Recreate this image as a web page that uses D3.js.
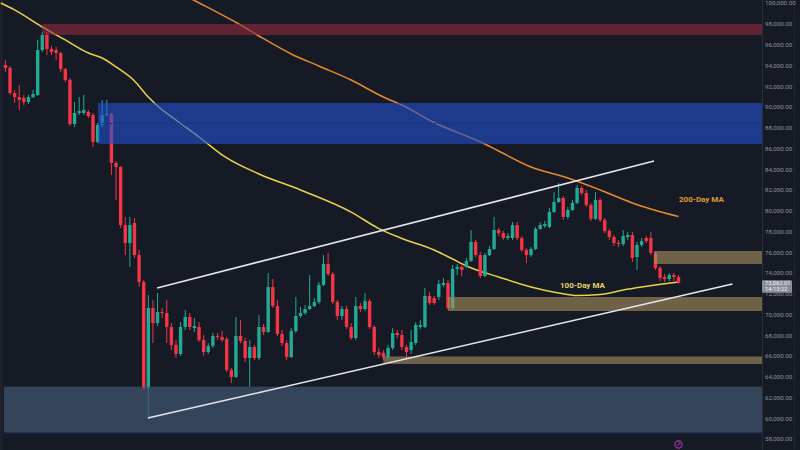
<!DOCTYPE html>
<html>
<head>
<meta charset="utf-8">
<script src="https://cdn.jsdelivr.net/npm/d3@7/dist/d3.min.js"></script>
<style>
  html, body { margin: 0; padding: 0; background: #161a25; }
  svg { display: block; }
</style>
</head>
<body>
<div id="wrapper"></div>
<script>
// daily candles, prices in thousands of USD, oldest first
const openK = [94.03,93.74,91.33,90.94,90.85,90.46,90.94,91.14,95.47,96.92,95.57,95.47,95.18,93.64,92.58,88.34,89.40,89.40,89.50,89.21,
  86.61,88.25,89.21,89.31,84.59,84.20,78.61,76.88,78.81,75.72,73.12,62.91,70.62,69.17,70.23,70.14,68.79,67.05,66.19,68.79,
  69.75,68.69,68.79,67.54,66.38,66.96,67.92,67.83,67.63,64.65,63.97,67.92,67.44,65.80,66.86,65.80,68.79,68.31,72.64,70.81,
  68.12,67.25,65.90,68.40,69.85,70.14,70.52,70.81,71.20,72.84,74.86,73.90,71.20,69.85,70.52,68.79,67.73,70.81,70.52,71.29,
  68.79,66.38,66.29,65.90,66.77,68.21,68.02,66.86,66.57,67.25,68.79,68.79,71.78,71.58,71.68,72.84,73.03,70.62,74.38,74.57,
  74.57,75.15,76.98,75.72,73.70,75.72,76.30,78.13,77.84,77.36,77.36,78.61,77.36,76.21,75.72,76.30,78.23,78.52,78.42,79.87,
  80.83,81.22,79.39,80.06,80.74,82.18,81.70,80.54,79.20,81.02,79.10,78.04,77.46,76.88,76.78,77.46,77.65,75.53,76.69,77.36,
  77.36,75.92,74.47,73.61,73.41,73.80,73.61];
const highK = [94.51,93.93,91.62,92.10,91.14,91.14,91.62,96.44,97.21,97.21,95.86,95.76,95.28,93.74,92.78,90.46,90.94,91.14,89.69,89.40,
  88.44,90.66,90.66,89.40,84.78,84.30,79.39,79.39,79.29,76.21,73.32,71.87,71.39,72.06,70.62,71.39,69.17,67.54,69.27,70.43,
  70.14,69.66,69.27,68.02,67.25,68.21,68.21,68.40,67.83,64.84,69.75,69.46,67.73,67.54,67.05,69.95,69.08,73.99,73.41,71.39,
  68.50,67.54,68.69,71.68,70.72,70.91,73.80,71.58,73.12,75.72,75.92,74.09,71.39,70.81,70.81,69.17,71.68,71.10,72.06,71.49,
  68.98,66.77,66.57,67.05,68.69,68.50,68.50,67.05,68.50,69.27,69.46,72.55,72.16,71.78,73.32,73.51,73.32,74.76,74.86,74.76,
  75.44,78.13,77.17,76.01,75.92,76.59,79.39,78.33,78.04,77.84,78.90,78.90,77.55,76.40,76.50,78.42,78.90,79.00,80.26,81.79,
  82.66,81.41,80.35,81.02,82.47,82.37,81.99,80.74,81.79,81.22,79.29,78.23,77.65,77.17,78.13,77.94,77.94,76.98,77.36,77.55,
  77.94,76.11,74.67,73.90,73.99,73.99,73.80];
const lowK = [93.35,91.14,90.37,89.69,90.17,90.27,90.85,91.04,95.28,94.99,94.99,94.51,93.35,92.39,88.15,88.05,89.21,89.21,88.92,86.13,
  86.51,88.05,89.11,83.43,81.02,78.33,75.72,74.57,75.44,72.64,62.72,60.02,67.25,68.88,69.66,67.25,66.57,65.80,66.00,68.50,
  68.50,68.31,67.34,66.00,66.19,66.77,67.54,67.34,64.45,63.40,63.88,67.25,65.42,63.01,65.61,65.61,68.02,68.21,70.62,67.92,
  66.96,65.61,65.80,68.21,69.66,69.95,70.43,70.72,71.00,72.74,73.70,71.00,69.46,69.46,68.60,67.54,67.54,70.23,70.33,68.60,
  66.09,65.80,65.61,65.71,66.57,67.73,66.57,65.80,66.19,67.05,68.60,68.69,70.91,70.91,71.39,72.64,70.43,70.43,73.80,73.70,
  74.47,75.05,75.53,73.51,73.61,75.63,76.21,77.55,77.17,77.17,77.17,77.17,76.01,74.95,75.53,76.21,78.13,78.33,78.33,79.77,
  80.74,79.10,79.20,79.97,80.64,81.51,80.35,79.00,79.10,78.90,77.84,77.17,76.59,76.50,76.59,77.17,75.05,74.28,76.50,76.88,
  75.72,74.28,73.22,73.12,73.22,73.22,72.93];
const closeK = [93.74,91.33,90.94,90.66,90.46,90.94,91.23,95.47,96.92,95.57,95.28,95.18,93.64,92.58,88.34,89.40,89.60,89.69,89.11,86.61,
  88.25,89.21,89.31,84.59,84.20,78.61,76.88,78.61,75.72,73.12,62.91,70.62,69.17,70.23,70.14,68.79,67.05,66.19,68.79,69.75,
  68.79,68.88,67.54,66.38,66.96,67.92,67.83,67.54,64.65,63.97,67.92,67.44,65.80,66.86,65.80,68.79,68.31,72.64,70.81,68.12,
  67.25,65.90,68.40,69.85,70.14,70.52,70.81,71.20,72.84,74.86,73.90,71.20,69.85,70.52,68.79,67.73,70.81,70.52,71.29,68.79,
  66.38,66.09,65.90,66.77,68.21,68.02,66.86,66.38,67.34,68.98,68.98,71.78,71.10,71.10,72.93,73.03,70.62,74.38,74.57,74.28,
  75.15,76.98,75.72,73.70,75.72,76.30,78.13,77.84,77.36,77.55,78.61,77.36,76.21,75.72,76.30,78.23,78.61,78.71,79.87,80.83,
  81.22,79.39,80.06,80.74,82.18,81.70,80.54,79.20,81.02,79.10,78.04,77.46,76.88,76.78,77.55,77.65,75.44,76.69,77.07,77.07,
  75.92,74.47,73.51,73.41,73.80,73.61,73.06];

// moving averages: [candle index, price K]
const ma100 = [[-1,100.0],[2,99.33],[8,97.69],[13,96.44],[18,95.18],[21,94.70],[24,93.84],[28,92.49],[31,90.94],[33,90.08],
  [37,88.73],[42,87.09],[48,85.07],[55,83.53],[64,81.99],[75,79.86],[81,78.27],[86,77.32],[93,76.21],[97,75.34],[100,74.67],
  [107,73.61],[114,72.64],[120,72.06],[124,71.82],[129,71.91],[134,72.35],[138,72.64],[146,73.12]];
const ma200 = [[38,100.93],[41,100.24],[51,97.88],[55,96.82],[62,95.09],[68,93.93],[75,92.58],[82,90.94],[86,90.17],[93,88.49],
  [104,86.42],[107,85.74],[114,84.20],[122,83.14],[129,81.99],[136,80.74],[146,79.43]];

// trend channel, each line [[index, price K], [index, price K]]
const upperChannel = [[32.9, 72.55], [140.7, 84.78]];
const lowerChannel = [[30.9, 60.02], [157.7, 72.93]];

// horizontal zones, they run to the right edge
const zoneKind = ["red", "blue", "slate", "tan", "tan", "tan"];
const zoneStart = [8, 20.1, -0.3, 140.7, 96, 82];
const zoneLowK = [96.92, 86.42, 58.58, 74.86, 70.33, 65.23];
const zoneHighK = [97.98, 90.37, 63.04, 76.11, 71.68, 65.95];

const tickValuesK = [58,60,62,64,66,68,70,72,74,76,78,80,82,84,86,88,90,92,94,96,98,100];
const lastPrice = "73,062.01";
const countdown = "14:13:22";

function drawChart() {
  const dimensions = { width: 800, height: 450, plotRight: 762 };
  const colors = {
    bg: "#161a25", up: "#22ab94", down: "#f23645",
    red: "#8d2a3d", blue: "#2450d3", slate: "#405470", tan: "#a88e5f",
    ma100: "#e6d34c", ma200: "#e8892c", axisText: "#8e929c"
  };
  const zoneOpacity = { red: 0.62, blue: 0.6, slate: 0.72, tan: 0.62 };

  const svg = d3.select("#wrapper").append("svg")
    .attr("width", dimensions.width)
    .attr("height", dimensions.height)
    .style("background", colors.bg);

  svg.append("defs").append("clipPath").attr("id", "plot")
    .append("rect").attr("x", 0).attr("y", 0)
    .attr("width", dimensions.plotRight).attr("height", dimensions.height);

  const candles = d3.range(openK.length).map(i => ({
    i, o: openK[i], h: highK[i], l: lowK[i], c: closeK[i]
  }));

  const xScale = d3.scaleLinear().domain([0, 146]).range([5.4, 678.5]);
  const yScale = d3.scaleLinear().domain([58, 100]).range([439, 3]);

  const bounds = svg.append("g").attr("clip-path", "url(#plot)");

  // left edge strip
  bounds.append("rect").attr("x", 0).attr("y", 0).attr("width", 3)
    .attr("height", dimensions.height).attr("fill", "#1d212b");

  // moving averages
  const maLine = d3.line()
    .x(d => xScale(d[0]))
    .y(d => yScale(d[1]))
    .curve(d3.curveMonotoneX);
  bounds.append("path").attr("d", maLine(ma200))
    .attr("fill", "none").attr("stroke", colors.ma200).attr("stroke-width", 1.5);
  bounds.append("path").attr("d", maLine(ma100))
    .attr("fill", "none").attr("stroke", colors.ma100).attr("stroke-width", 1.5);

  // candles
  const bodyW = 3.4;
  const candleG = bounds.append("g");
  candleG.selectAll("line").data(candles).join("line")
    .attr("x1", d => xScale(d.i)).attr("x2", d => xScale(d.i))
    .attr("y1", d => yScale(d.h)).attr("y2", d => yScale(d.l))
    .attr("stroke", d => d.c >= d.o ? colors.up : colors.down)
    .attr("stroke-width", 1);
  candleG.selectAll("rect").data(candles).join("rect")
    .attr("x", d => xScale(d.i) - bodyW / 2)
    .attr("width", bodyW)
    .attr("y", d => yScale(Math.max(d.o, d.c)))
    .attr("height", d => Math.max(1, Math.abs(yScale(d.o) - yScale(d.c))))
    .attr("fill", d => d.c >= d.o ? colors.up : colors.down);

  // zones drawn over candles, semi transparent
  const zones = zoneKind.map((k, j) => ({ k, s: zoneStart[j], lo: zoneLowK[j], hi: zoneHighK[j] }));
  bounds.append("g").selectAll("rect").data(zones).join("rect")
    .attr("x", d => xScale(d.s))
    .attr("width", d => dimensions.plotRight - xScale(d.s))
    .attr("y", d => yScale(d.hi))
    .attr("height", d => yScale(d.lo) - yScale(d.hi))
    .attr("fill", d => colors[d.k])
    .attr("fill-opacity", d => zoneOpacity[d.k]);

  // mid line of the blue zone
  const blue = zones[1];
  const mid = (blue.lo + blue.hi) / 2;
  bounds.append("line")
    .attr("x1", xScale(blue.s)).attr("x2", dimensions.plotRight)
    .attr("y1", yScale(mid)).attr("y2", yScale(mid))
    .attr("stroke", "#1a2c70").attr("stroke-width", 1)
    .attr("stroke-dasharray", "2,2");

  // bottom edge of the slate zone
  const slate = zones[2];
  bounds.append("line")
    .attr("x1", xScale(slate.s)).attr("x2", dimensions.plotRight)
    .attr("y1", yScale(slate.lo)).attr("y2", yScale(slate.lo))
    .attr("stroke", "#1c2a4a").attr("stroke-width", 1.5);

  // channel
  const straight = d3.line().x(d => xScale(d[0])).y(d => yScale(d[1]));
  [upperChannel, lowerChannel].forEach(pts => {
    bounds.append("path").attr("d", straight(pts))
      .attr("fill", "none").attr("stroke", "#e6e7ec").attr("stroke-width", 1.6);
  });

  // MA labels
  bounds.append("text")
    .attr("x", xScale(120.3)).attr("y", yScale(72.55))
    .attr("fill", "#e8d46a").attr("font-family", "Roboto, sans-serif")
    .attr("font-size", 8).attr("font-weight", "bold")
    .text("100-Day MA");
  bounds.append("text")
    .attr("x", xScale(146.1)).attr("y", yScale(80.83))
    .attr("fill", "#e59a33").attr("font-family", "Roboto, sans-serif")
    .attr("font-size", 8).attr("font-weight", "bold")
    .text("200-Day MA");

  // event icon below last candle
  const icon = svg.append("g")
    .attr("transform", `translate(${xScale(146)}, 444.5)`);
  icon.append("circle").attr("r", 3.6)
    .attr("fill", "none").attr("stroke", "#a8359f").attr("stroke-width", 1.2);
  icon.append("path").attr("d", "M-1.5,1.5 L1.5,-1.5 M0,-1.5 L1.5,-1.5 L1.5,0")
    .attr("fill", "none").attr("stroke", "#a8359f").attr("stroke-width", 0.9);

  // right price axis
  svg.append("line")
    .attr("x1", dimensions.plotRight + 0.5).attr("x2", dimensions.plotRight + 0.5)
    .attr("y1", 0).attr("y2", dimensions.height)
    .attr("stroke", "#2a2e39");
  svg.append("line")
    .attr("x1", 794.5).attr("x2", 794.5).attr("y1", 0).attr("y2", dimensions.height)
    .attr("stroke", "#22262f");

  const yAxisGenerator = d3.axisRight(yScale)
    .tickValues(tickValuesK)
    .tickFormat(d => d3.format(",.2f")(d * 1000))
    .tickSize(0)
    .tickPadding(3);
  const yAxis = svg.append("g")
    .attr("transform", `translate(${dimensions.plotRight}, 0)`)
    .call(yAxisGenerator);
  yAxis.select(".domain").remove();
  yAxis.selectAll("text")
    .attr("fill", colors.axisText)
    .attr("font-family", "Roboto, sans-serif")
    .attr("font-size", 6.2);

  // last price label
  const py = yScale(closeK[closeK.length - 1]);
  const tag = svg.append("g").attr("transform", `translate(${dimensions.plotRight}, ${py})`);
  tag.append("rect").attr("x", 0).attr("y", -2.5).attr("width", 30).attr("height", 12.5)
    .attr("rx", 1).attr("fill", "#8b8e97");
  tag.append("text").attr("x", 3).attr("y", 2.6).text(lastPrice)
    .attr("fill", "#f2f3f5").attr("font-family", "Roboto, sans-serif").attr("font-size", 5.8);
  tag.append("text").attr("x", 3).attr("y", 8.2).text(countdown)
    .attr("fill", "#f2f3f5").attr("font-family", "Roboto, sans-serif").attr("font-size", 5.8);
}

drawChart();
</script>
</body>
</html>
